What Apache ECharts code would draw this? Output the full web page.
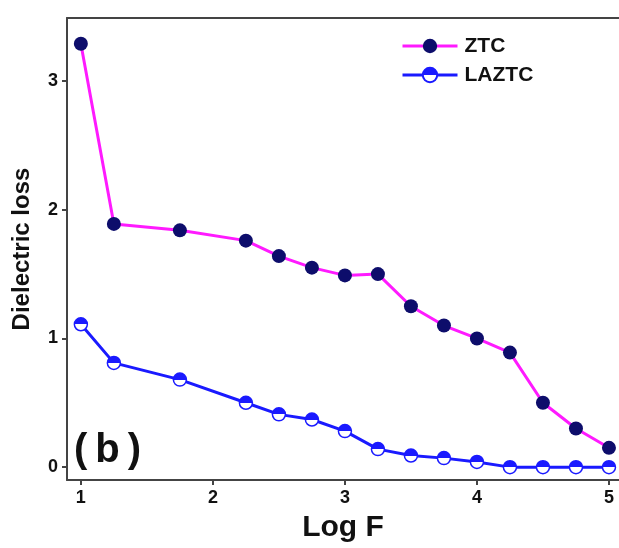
<!DOCTYPE html>
<html>
<head>
<meta charset="utf-8">
<script src="https://cdn.jsdelivr.net/npm/echarts@6/dist/echarts.min.js"></script>
<style>html,body{margin:0;padding:0;background:#fff;}#c{width:619px;height:548px;}</style>
</head>
<body>
<div id="c"></div>
<script>
var logF = [1, 1.25, 1.75, 2.25, 2.5, 2.75, 3, 3.25, 3.5, 3.75, 4, 4.25, 4.5, 4.75, 5];
var ztc = [3.29, 1.89, 1.84, 1.76, 1.64, 1.55, 1.49, 1.50, 1.25, 1.10, 1.00, 0.89, 0.50, 0.30, 0.15];
var laztc = [1.11, 0.81, 0.68, 0.50, 0.41, 0.37, 0.28, 0.14, 0.09, 0.07, 0.04, 0.00, 0.00, 0.00, 0.00];
var xTicks = [1, 2, 3, 4, 5];
var yTicks = [0, 1, 2, 3];

function pairs(ys) { return logF.map(function (x, i) { return [x, ys[i]]; }); }

var axisCol = '#444';
var font = '"Liberation Sans", Arial, sans-serif';
var chart = echarts.init(document.getElementById('c'));
chart.setOption({
  backgroundColor: '#fff',
  animation: false,
  grid: { left: 67, top: 18, right: -3, bottom: 63, containLabel: false },
  legend: {
    left: 396, top: 29, orient: 'vertical', itemGap: 5,
    itemWidth: 55, itemHeight: 18,
    lineStyle: { width: 3 },
    textStyle: { fontFamily: font, fontWeight: 'bold', fontSize: 21, color: '#111', lineHeight: 24, padding: [0, 0, 0, 2] },
    data: ['ZTC', 'LAZTC']
  },
  xAxis: [{
    type: 'value', min: 0.895, max: 5.076,
    name: 'Log F', nameLocation: 'middle', nameGap: 33,
    nameTextStyle: { fontFamily: font, fontWeight: 'bold', fontSize: 30, color: '#111' },
    splitLine: { show: false },
    axisLine: { show: true, onZero: false, lineStyle: { color: axisCol, width: 2 } },
    axisTick: { show: true, customValues: xTicks, length: 5, inside: false, lineStyle: { color: axisCol, width: 2 } },
    axisLabel: { customValues: xTicks, margin: 9, fontFamily: font, fontWeight: 'bold', fontSize: 18, color: '#111' }
  }, {
    type: 'value', min: 0.895, max: 5.076, position: 'top',
    axisLine: { show: true, onZero: false, lineStyle: { color: axisCol, width: 2 } },
    axisTick: { show: false }, axisLabel: { show: false }, splitLine: { show: false }
  }],
  yAxis: {
    type: 'value', min: -0.1, max: 3.49,
    name: 'Dielectric loss', nameLocation: 'middle', nameGap: 33,
    nameTextStyle: { fontFamily: font, fontWeight: 'bold', fontSize: 24, color: '#111' },
    splitLine: { show: false },
    axisLine: { show: true, onZero: false, lineStyle: { color: axisCol, width: 2 } },
    axisTick: { show: true, customValues: yTicks, length: 5, lineStyle: { color: axisCol, width: 2 } },
    axisLabel: { customValues: yTicks, margin: 9, fontFamily: font, fontWeight: 'bold', fontSize: 18, color: '#111' }
  },
  graphic: [{
    type: 'text', left: 74, top: 431,
    style: {
      text: '{p|(}{p|b}{p|)}',
      rich: { p: { font: 'bold 40px ' + font, fill: '#111', padding: [0, 4, 0, 4] } }
    }
  }],
  series: [{
    name: 'ZTC', type: 'line', data: pairs(ztc),
    symbol: 'circle', symbolSize: 14,
    lineStyle: { color: '#ff1aff', width: 3 },
    itemStyle: { color: '#0d0d6b', borderColor: '#0d0d6b', borderWidth: 0 },
    z: 3
  }, {
    name: 'LAZTC', type: 'line', data: pairs(laztc),
    symbol: 'circle', symbolSize: 13,
    lineStyle: { color: '#1a1aff', width: 3 },
    itemStyle: {
      color: { type: 'linear', x: 0, y: 0, x2: 0, y2: 1, colorStops: [
        { offset: 0, color: '#1a1aff' }, { offset: 0.5, color: '#1a1aff' },
        { offset: 0.5, color: '#ffffff' }, { offset: 1, color: '#ffffff' }] },
      borderColor: '#1a1aff', borderWidth: 1.5
    },
    z: 4
  }]
});
</script>
</body>
</html>
